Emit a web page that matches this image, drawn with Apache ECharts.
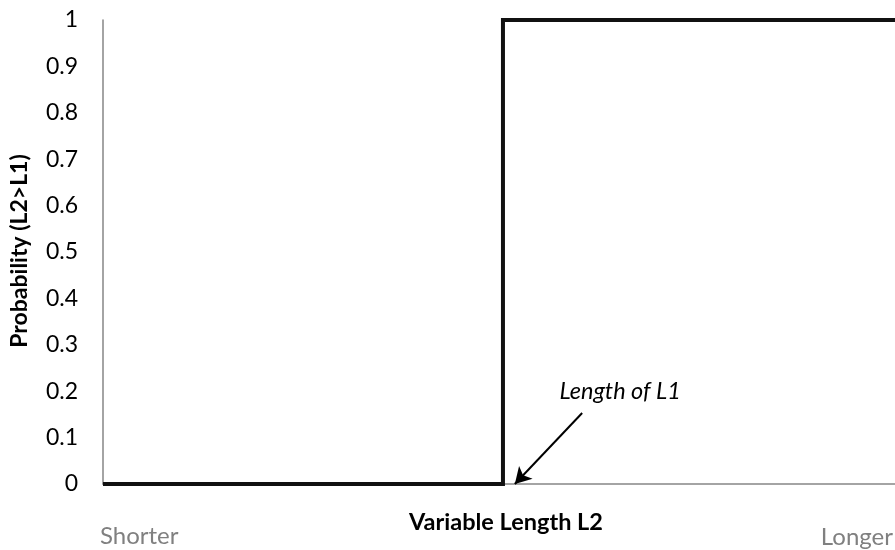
<!DOCTYPE html>
<html>
<head>
<meta charset="utf-8">
<script src="https://cdn.jsdelivr.net/npm/echarts@6/dist/echarts.min.js"></script>
<style>
  html, body { margin: 0; padding: 0; background: #fff; }
  #chart { width: 895px; height: 550px; }
</style>
</head>
<body>
<div id="chart"></div>
<script>
// step curve: P(L2 > L1) against L2 (x in % of axis)
var stepX = [0, 50.5, 50.5, 100];
var stepY = [0, 0, 1, 1];
var yTicks = [0, 0.1, 0.2, 0.3, 0.4, 0.5, 0.6, 0.7, 0.8, 0.9, 1];
var arrowFrom = [60.5, 0.153];
var arrowTo = [52.0, 0];
var notePos = [65.3, 0.2];
var noteText = 'Length of L1';

var font = 'Lato';
var chart = echarts.init(document.getElementById('chart'));

var pts = stepX.map(function (x, i) { return [x, stepY[i]]; });

var option = {
    animation: false,
    grid: { left: 103, right: 0, top: 20, bottom: 66, containLabel: false },
    xAxis: {
        type: 'value', min: 0, max: 100,
        axisLine: { show: true, onZero: false, lineStyle: { color: '#868686', width: 1.5 } },
        axisTick: { show: false }, axisLabel: { show: false }, splitLine: { show: false }
    },
    yAxis: {
        type: 'value', min: yTicks[0], max: yTicks[yTicks.length - 1], interval: 0.1,
        axisLine: { show: true, lineStyle: { color: '#868686', width: 1.5 } },
        axisTick: { show: false }, splitLine: { show: false },
        axisLabel: {
            margin: 25, color: '#000', fontFamily: font, fontSize: 23,
            formatter: function (v) { return String(Math.round(v * 10) / 10); }
        }
    },
    series: [{
        type: 'line',
        data: pts,
        symbol: 'none',
        clip: false,
        lineStyle: { color: '#111', width: 4, join: 'miter' },
        markLine: {
            silent: true,
            symbol: ['none', 'arrow'],
            symbolSize: [14, 16],
            label: { show: false },
            lineStyle: { color: '#000', width: 2, type: 'solid' },
            data: [[{ coord: arrowFrom }, { coord: arrowTo }]]
        },
        markPoint: {
            silent: true,
            symbol: 'circle', symbolSize: 0,
            label: {
                show: true, position: 'inside', formatter: noteText,
                color: '#000', fontFamily: font, fontSize: 23.5, fontStyle: 'italic'
            },
            data: [{ coord: notePos }]
        }
    }],
    graphic: [
        {
            type: 'text', x: 20, y: 251, rotation: Math.PI / 2,
            style: { text: 'Probability (L2>L1)', fontFamily: font, fontSize: 23, fontWeight: 'bold',
                     fill: '#000', textAlign: 'center', textVerticalAlign: 'middle' }
        },
        {
            type: 'text', x: 506, y: 522,
            style: { text: 'Variable Length L2', fontFamily: font, fontSize: 23.5, fontWeight: 'bold',
                     fill: '#000', textAlign: 'center', textVerticalAlign: 'middle' }
        },
        {
            type: 'text', x: 100, y: 536,
            style: { text: 'Shorter', fontFamily: font, fontSize: 24, fill: '#808080',
                     textAlign: 'left', textVerticalAlign: 'middle' }
        },
        {
            type: 'text', x: 893, y: 537,
            style: { text: 'Longer', fontFamily: font, fontSize: 24, fill: '#808080',
                     textAlign: 'right', textVerticalAlign: 'middle' }
        }
    ]
};
chart.setOption(option);
</script>
</body>
</html>
